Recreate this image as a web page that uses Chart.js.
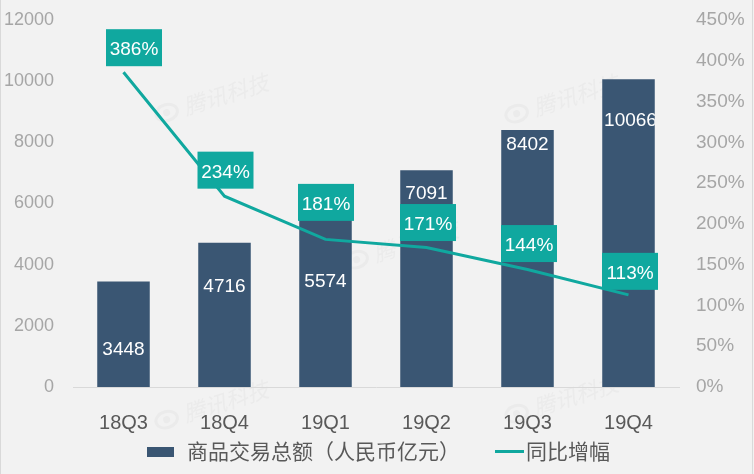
<!DOCTYPE html>
<html>
<head>
<meta charset="utf-8">
<style>
  html, body { margin: 0; padding: 0; background: #f2f2f2; overflow: hidden; }
  #wrap { width: 754px; height: 474px; }
</style>
<script src="https://cdn.jsdelivr.net/npm/chart.js@4"></script>
</head>
<body>
<div id="wrap"><canvas id="gmvChart" width="754" height="474"></canvas></div>
<script>
document.addEventListener('DOMContentLoaded', function() {
    const labels = ['18Q3', '18Q4', '19Q1', '19Q2', '19Q3', '19Q4'];
    const gmv = [3448, 4716, 5574, 7091, 8402, 10066];
    const growth = [386, 234, 181, 171, 144, 113];

    // where the value labels sit, in px from the bar top / line point
    const barLabelOffset = [68, 44, 65.5, 24, 15, 42];
    const growthBoxOffset = [[10.5, -24.5], [1, -26], [0.5, -37], [1.5, -25], [1.5, -26], [1.5, -23.5]];

    const LATIN = '"Liberation Sans", Arial, sans-serif';
    const CJK = '"Liberation Sans", "Noto Sans CJK SC", sans-serif';
    const BAR_COLOR = '#3a5673';
    const TEAL = '#10a89f';

    // grey background, edge lines and the faint watermarks
    const backdrop = {
        id: 'backdrop',
        beforeDraw(chart) {
            const ctx = chart.ctx;
            ctx.save();
            ctx.fillStyle = '#f2f2f2';
            ctx.fillRect(0, 0, chart.width, chart.height);
            ctx.fillStyle = '#d9d9d9';
            ctx.fillRect(0, 0, 1, chart.height);
            ctx.fillRect(chart.width - 2, 0, 1, chart.height);
            [[159, 115], [509, 116], [349, 262], [159, 422], [509, 416]].forEach(p => {
                ctx.save();
                ctx.translate(p[0], p[1]);
                ctx.rotate(-0.3);
                ctx.strokeStyle = '#ebebeb';
                ctx.fillStyle = '#ebebeb';
                ctx.lineWidth = 3;
                ctx.beginPath();
                ctx.ellipse(8, 0, 11, 8, 0, 0, Math.PI * 2);
                ctx.stroke();
                ctx.beginPath();
                ctx.arc(8, 0, 3.5, 0, Math.PI * 2);
                ctx.fill();
                ctx.font = 'italic 22px "Noto Sans CJK SC", sans-serif';
                ctx.textBaseline = 'middle';
                ctx.fillText('腾讯科技', 26, 0);
                ctx.restore();
            });
            ctx.restore();
        }
    };

    // value labels: bar numbers are cut at the bar edge, growth numbers get a teal box
    const valueLabels = {
        id: 'valueLabels',
        afterDatasetsDraw(chart) {
            const ctx = chart.ctx;
            const bars = chart.getDatasetMeta(1).data;
            const points = chart.getDatasetMeta(0).data;
            ctx.save();
            ctx.textAlign = 'center';
            ctx.textBaseline = 'middle';
            ctx.font = '19px ' + LATIN;
            bars.forEach((bar, i) => {
                ctx.save();
                ctx.beginPath();
                ctx.rect(bar.x - bar.width / 2, 0, bar.width, chart.height);
                ctx.clip();
                ctx.fillStyle = '#ffffff';
                const tx = i === 5 ? bar.x + 2 : bar.x;
                ctx.fillText(gmv[i], tx, bar.y + barLabelOffset[i]);
                ctx.restore();
            });
            points.forEach((pt, i) => {
                const cx = pt.x + growthBoxOffset[i][0];
                const cy = pt.y + growthBoxOffset[i][1];
                ctx.fillStyle = TEAL;
                ctx.fillRect(cx - 28, cy - 18.5, 56, 37);
                ctx.fillStyle = '#ffffff';
                ctx.fillText(growth[i] + '%', cx, cy + 2.5);
            });
            ctx.restore();
        }
    };

    // legend at the bottom, the built-in one can't space the two entries like this
    const bottomLegend = {
        id: 'bottomLegend',
        afterDraw(chart) {
            const ctx = chart.ctx;
            const ds = chart.data.datasets;
            ctx.save();
            ctx.fillStyle = BAR_COLOR;
            ctx.fillRect(147, 447, 27, 10);
            ctx.fillStyle = TEAL;
            ctx.fillRect(495, 450, 29, 3);
            ctx.font = '21px ' + CJK;
            ctx.textBaseline = 'middle';
            ctx.fillStyle = '#595959';
            ctx.fillText(ds[1].label, 187, 453);
            ctx.fillText(ds[0].label, 526, 453);
            ctx.restore();
        }
    };

    const ctx = document.getElementById('gmvChart').getContext('2d');
    new Chart(ctx, {
        data: {
            labels: labels,
            datasets: [{
                type: 'line',
                label: '同比增幅',
                data: growth,
                yAxisID: 'y1',
                borderColor: TEAL,
                borderWidth: 3,
                tension: 0,
                pointRadius: 0,
                order: 1
            }, {
                type: 'bar',
                label: '商品交易总额（人民币亿元）',
                data: gmv,
                yAxisID: 'y',
                backgroundColor: BAR_COLOR,
                barPercentage: 0.52,
                categoryPercentage: 1,
                order: 2
            }]
        },
        options: {
            responsive: false,
            animation: false,
            layout: { autoPadding: false, padding: { top: 20, bottom: 0, left: 0, right: 0 } },
            plugins: {
                tooltip: { enabled: false },
                legend: { display: false },
                title: { display: false }
            },
            scales: {
                x: {
                    grid: { display: false, drawTicks: false },
                    border: { color: '#d9d9d9', width: 1 },
                    ticks: { color: '#595959', font: { family: LATIN, size: 20 }, padding: 24, maxRotation: 0 },
                    afterFit(scale) { scale.height = 87; }
                },
                y: {
                    position: 'left',
                    min: 0,
                    max: 12000,
                    grid: { display: false, drawTicks: false },
                    border: { display: false },
                    ticks: { stepSize: 2000, color: '#a6a6a6', font: { family: LATIN, size: 18 }, padding: 19, callback: v => String(v) },
                    afterFit(scale) { scale.width = 73; scale.paddingTop = 0; scale.paddingBottom = 0; }
                },
                y1: {
                    position: 'right',
                    min: 0,
                    max: 450,
                    grid: { display: false, drawTicks: false },
                    border: { display: false },
                    ticks: {
                        stepSize: 50,
                        color: '#a6a6a6',
                        font: { family: LATIN, size: 19 },
                        padding: 17,
                        crossAlign: 'near',
                        callback: v => v + '%'
                    },
                    afterFit(scale) { scale.width = 75; scale.paddingTop = 0; scale.paddingBottom = 0; }
                }
            }
        },
        plugins: [backdrop, valueLabels, bottomLegend]
    });
});
</script>
</body>
</html>
